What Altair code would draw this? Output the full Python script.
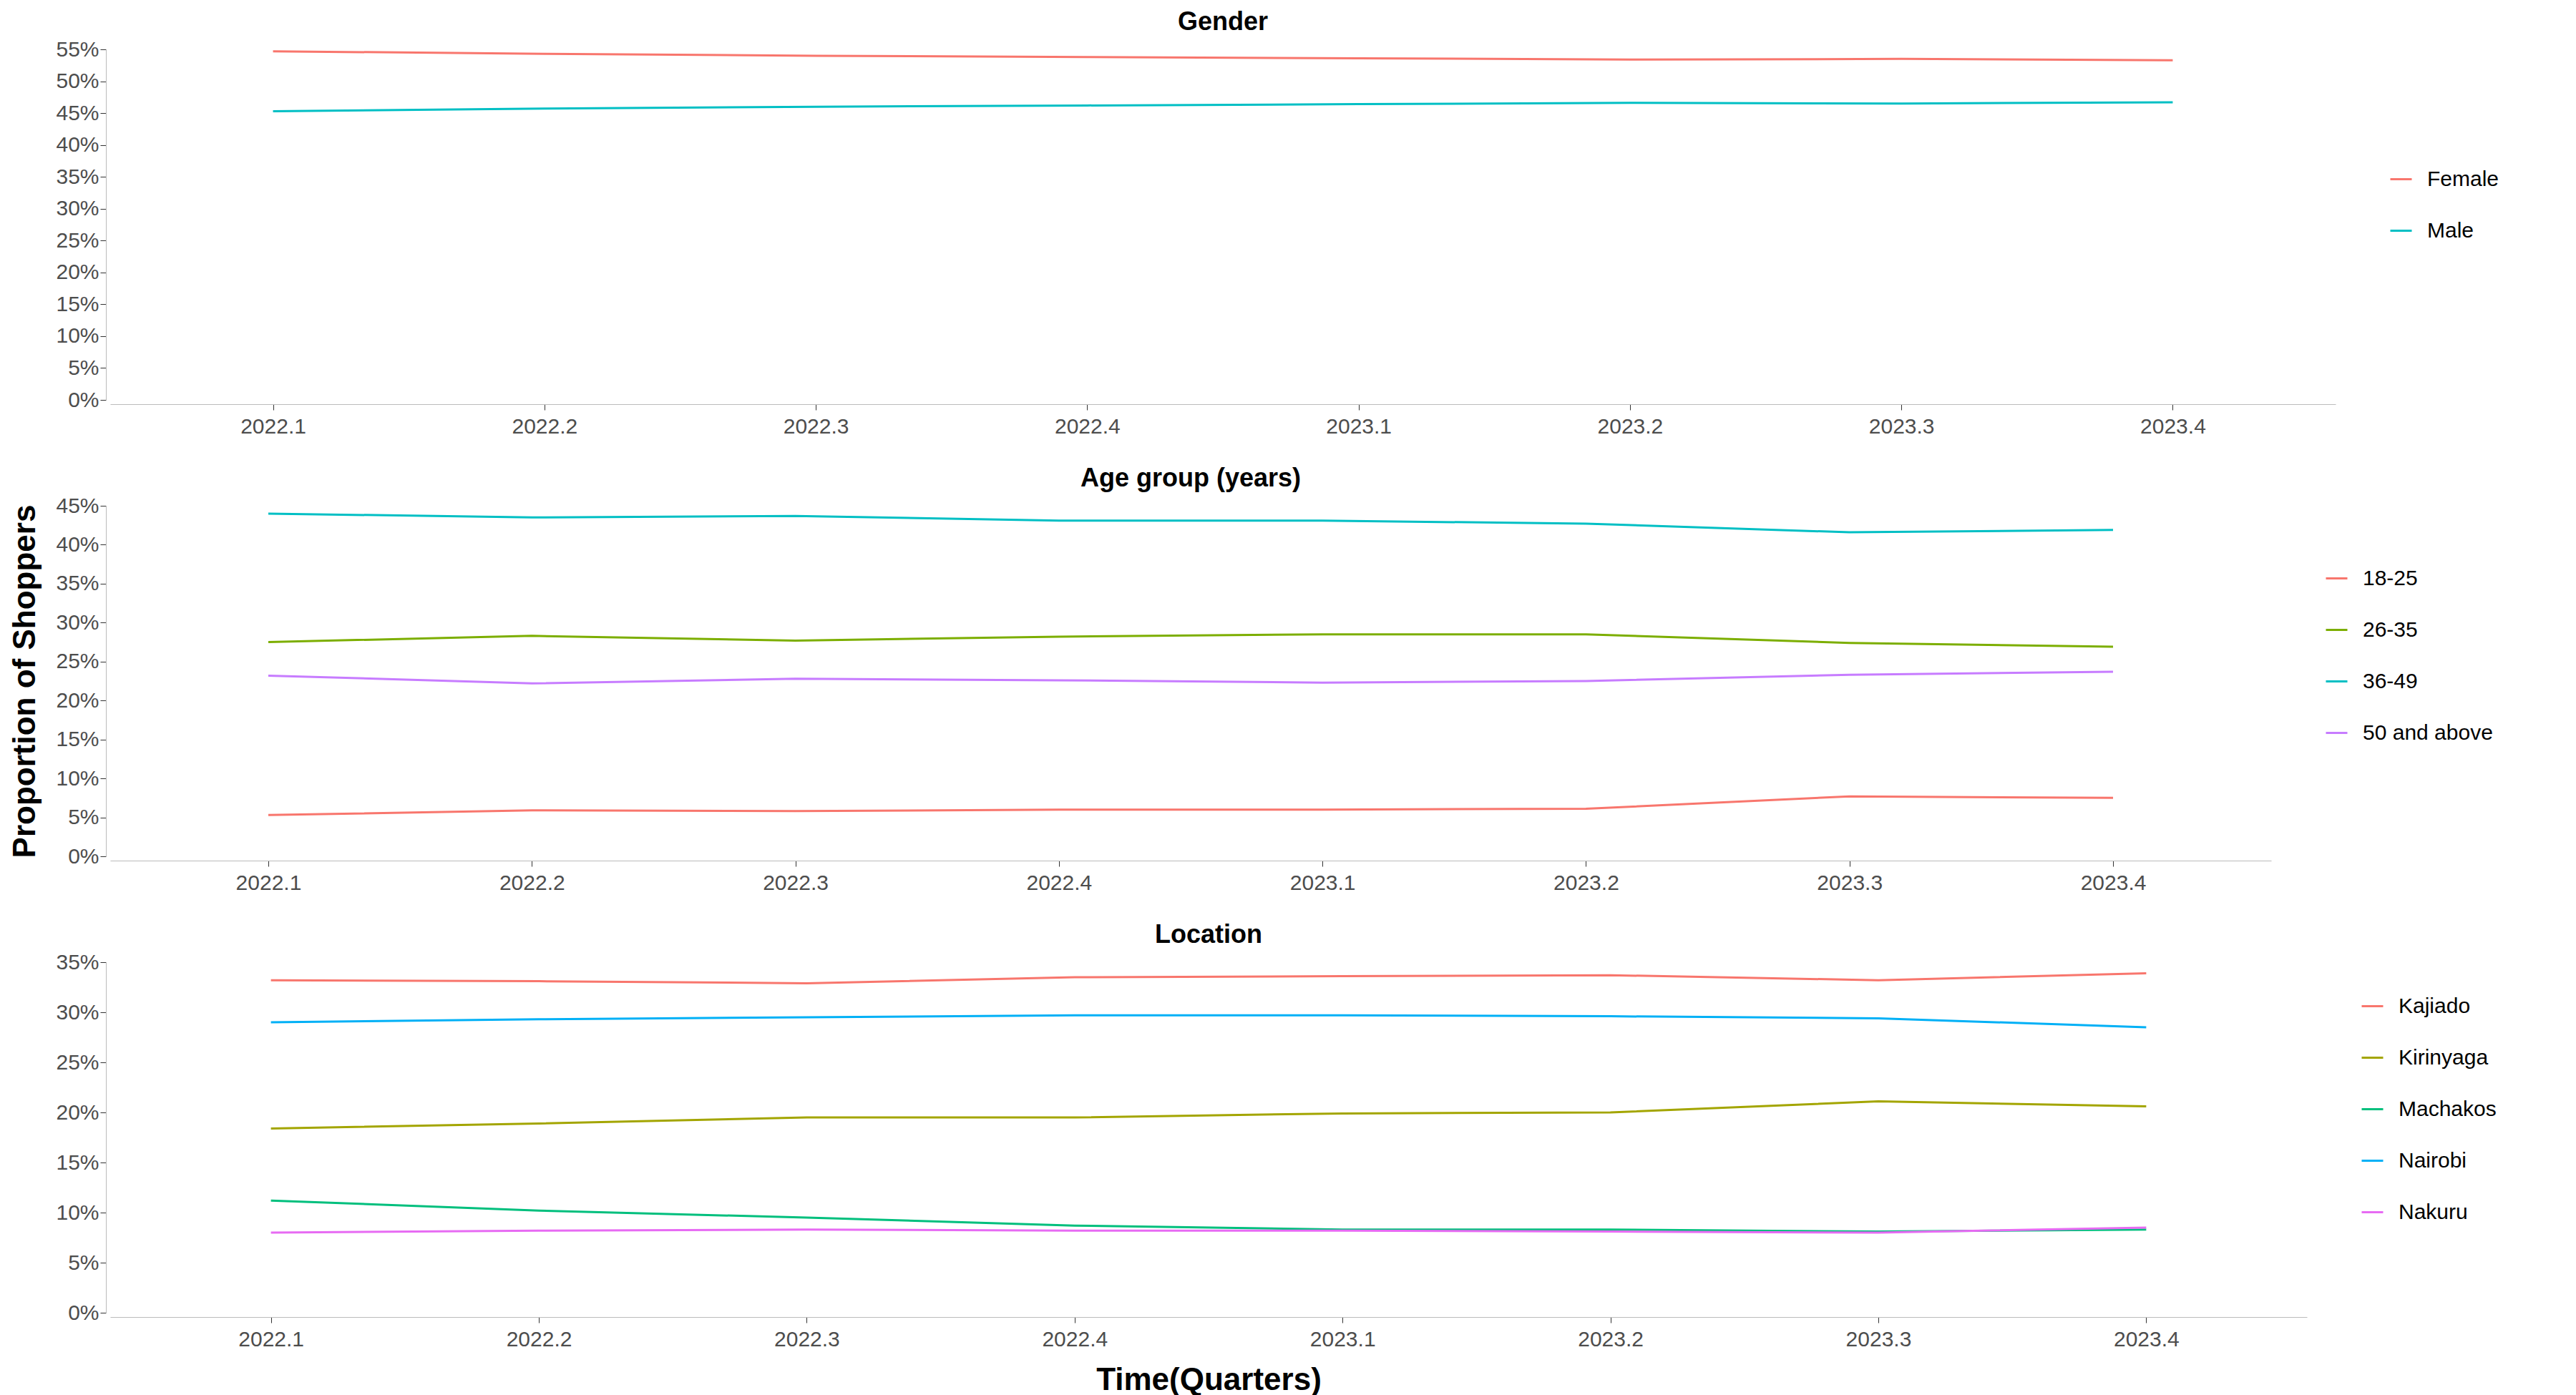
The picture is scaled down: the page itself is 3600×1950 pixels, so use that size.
import altair as alt
import pandas as pd

quarters = ["2022.1", "2022.2", "2022.3", "2022.4", "2023.1", "2023.2", "2023.3", "2023.4"]

female = [54.7, 54.3, 54.0, 53.8, 53.6, 53.4, 53.5, 53.3]
male = [45.3, 45.7, 46.0, 46.2, 46.4, 46.6, 46.5, 46.7]

age_18_25 = [5.3, 5.9, 5.8, 6.0, 6.0, 6.1, 7.7, 7.5]
age_26_35 = [27.5, 28.3, 27.7, 28.2, 28.5, 28.5, 27.4, 26.9]
age_36_49 = [44.0, 43.5, 43.7, 43.1, 43.1, 42.7, 41.6, 41.9]
age_50_up = [23.2, 22.2, 22.8, 22.6, 22.3, 22.5, 23.3, 23.7]

kajiado = [33.2, 33.1, 32.9, 33.5, 33.6, 33.7, 33.2, 33.9]
kirinyaga = [18.4, 18.9, 19.5, 19.5, 19.9, 20.0, 21.1, 20.6]
machakos = [11.2, 10.2, 9.5, 8.7, 8.3, 8.3, 8.1, 8.3]
nairobi = [29.0, 29.3, 29.5, 29.7, 29.7, 29.6, 29.4, 28.5]
nakuru = [8.0, 8.2, 8.3, 8.2, 8.2, 8.1, 8.0, 8.5]

FONT = "Liberation Sans"
H = 490


def frame(series):
    rows = []
    for name, vals in series.items():
        for q, v in zip(quarters, vals):
            rows.append({"quarter": q, "group": name, "value": v / 100})
    return pd.DataFrame(rows)


def panel(title, series, colors, ymax, width, ytitle=" ", xtitle=None):
    df = frame(series)
    n = len(series)
    ticks = [i / 100 for i in range(0, ymax + 1, 5)]
    xaxis = alt.Axis(labelAngle=0, ticks=True, domainColor="#bbbbbb", tickColor="#333333",
                     labelFontSize=30, labelColor="#4d4d4d", labelPadding=8, offset=6,
                     titleFontSize=44, titleFont=FONT, titlePadding=20, tickSize=8)
    yaxis = alt.Axis(format=".0%", values=ticks, grid=False, domainColor="#bbbbbb",
                     tickColor="#333333", labelFontSize=30, labelColor="#4d4d4d", offset=6,
                     titleFontSize=44, titlePadding=20, tickSize=8)
    return (
        alt.Chart(df, title=alt.TitleParams(title, fontSize=36, font=FONT, fontWeight="bold"))
        .mark_line(strokeWidth=3)
        .encode(
            x=alt.X("quarter:O", sort=quarters, scale=alt.Scale(type="point", padding=0.6),
                    axis=xaxis, title=xtitle),
            y=alt.Y("value:Q", scale=alt.Scale(domain=[0, ymax / 100], nice=False),
                    axis=yaxis, title=ytitle),
            color=alt.Color("group:N", scale=alt.Scale(domain=list(series), range=colors),
                            legend=alt.Legend(title=None, orient="none", legendX=width + 75,
                                              legendY=H / 2 - n * 40, symbolType="stroke",
                                              symbolStrokeWidth=3, symbolSize=900,
                                              labelFontSize=30, rowPadding=40, labelOffset=20,
                                              labelLimit=0)),
        )
        .properties(width=width, height=H)
    )


g = panel("Gender", {"Female": female, "Male": male}, ["#F8766D", "#00BFC4"], 55, 3110)
a = panel("Age group (years)",
          {"18-25": age_18_25, "26-35": age_26_35, "36-49": age_36_49, "50 and above": age_50_up},
          ["#F8766D", "#7CAE00", "#00BFC4", "#C77CFF"], 45, 3020, ytitle="Proportion of Shoppers")
l = panel("Location",
          {"Kajiado": kajiado, "Kirinyaga": kirinyaga, "Machakos": machakos,
           "Nairobi": nairobi, "Nakuru": nakuru},
          ["#F8766D", "#A3A500", "#00BF7D", "#00B0F6", "#E76BF3"], 35, 3070,
          xtitle="Time(Quarters)")

chart = (
    alt.vconcat(g, a, l, spacing=40)
    .resolve_scale(color="independent", x="independent")
    .configure(font=FONT)
    .configure_view(stroke=None)
)

chart.save("out.html", embed_options={"renderer": "svg", "actions": False})
